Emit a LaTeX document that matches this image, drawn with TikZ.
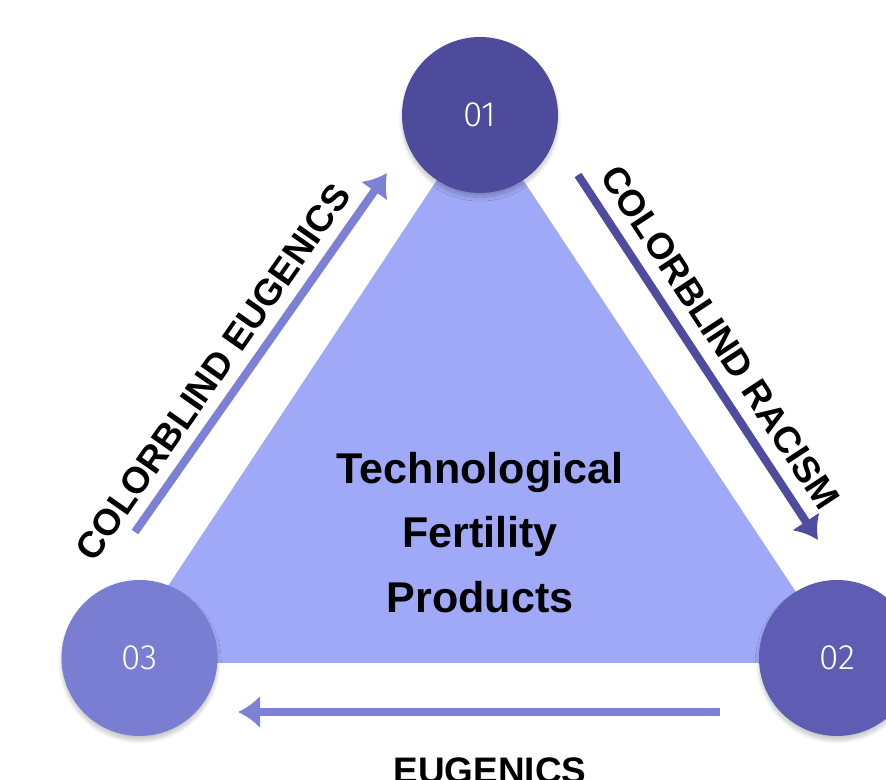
\documentclass[tikz,border=0pt]{standalone}
\usepackage{fontspec}
\setmainfont{Liberation Sans}
\newfontfamily\numfont{Fira Sans Light}
\usepackage{xcolor}
\usetikzlibrary{arrows.meta,calc,positioning,shadows.blur}

\begin{document}
\begin{tikzpicture}[
  line cap=butt,
  line join=round,
  disc/.style={circle, minimum size=3.12cm, inner sep=0pt, text=white,
    font=\numfont\fontsize{20}{24}\selectfont,
    blur shadow={shadow blur steps=10, shadow xshift=0pt,
      shadow yshift=-2.5pt, shadow opacity=22}},
  core/.style={fill=trifill},
  flow/.style={-{Latex[length=0.44cm,width=0.66cm]}, line width=4.6pt},
  tag/.style={font=\bfseries\fontsize{21}{25}\selectfont, inner sep=0pt,
    text=black},
  title/.style={font=\bfseries\fontsize{24.5}{36.9}\selectfont, align=center}
]
\definecolor{trifill}{HTML}{A0A9F7}
\definecolor{discone}{HTML}{4E4A9C}
\definecolor{disctwo}{HTML}{5E5DB3}
\definecolor{discthree}{HTML}{7A7ED2}
\definecolor{flowlight}{HTML}{7C81D5}
\definecolor{flowdark}{HTML}{4F4B9E}

\useasboundingbox (0,0) rectangle (17.72,15.6);

% the central triangle, its apex hidden under disc 01
\coordinate (apex) at (9.6,13.3);
\coordinate (left) at (2.34,2.34);
\coordinate (right) at (16.86,2.34);
\fill[core] (apex) -- (left) -- (right) -- cycle;
\node[title] (prod) at (9.6,4.95) {Technological\\Fertility\\Products};

% the three numbered discs
\node[disc, fill=discone] (one) at (apex) {01};
\node[disc, fill=disctwo] (two) at (16.74,2.44) {02};
\node[disc, fill=discthree] (three) at (2.79,2.44) {03};

% arrows running along the sides
\coordinate (rtail) at (11.56,12.1);
\coordinate (rhead) at (16.36,4.8);
\coordinate (btail) at (14.4,1.36);
\coordinate (bhead) at (4.76,1.36);
\coordinate (ltail) at (2.7,4.96);
\coordinate (lhead) at (7.74,12.14);

\draw[flow, flowdark] (rtail) -- node[tag, sloped, above=0.25cm, pos=0.49]
  (racism) {COLORBLIND RACISM} (rhead);
\draw[flow, flowlight] (ltail) -- node[tag, sloped, above=0.22cm, pos=0.40]
  (ceug) {COLORBLIND EUGENICS} (lhead);
\draw[flow, flowlight] (btail) -- (bhead);
\node[tag, anchor=base] (eug) at (9.8,-0.07) {EUGENICS};
\end{tikzpicture}
\end{document}
